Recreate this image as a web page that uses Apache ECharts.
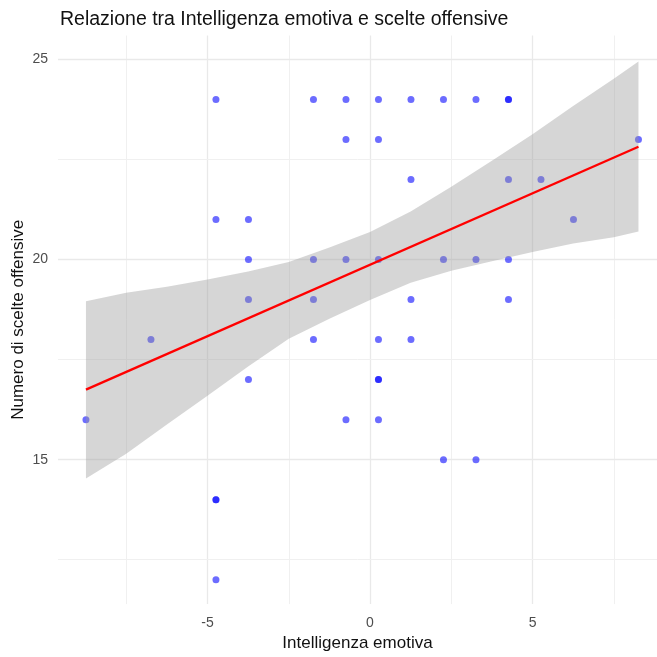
<!DOCTYPE html>
<html lang="it">
<head>
  <meta charset="UTF-8">
  <title>Relazione tra Intelligenza emotiva e scelte offensive</title>
  <style>
    * { margin: 0; padding: 0; }
    html, body { width: 100%; height: 100%; background: #ffffff; }
    #main { width: 657px; height: 657px; }
  </style>
</head>
<body>
  <div id="main"></div>
  <script src="https://cdn.jsdelivr.net/npm/echarts@6/dist/echarts.min.js"></script>
  <script>
    // punti osservati (x centrata, numero di scelte)
    var pointX = [-8.74, -6.74,
      -4.74, -4.74, -4.74, -4.74, -4.74,
      -3.74, -3.74, -3.74, -3.74,
      -1.74, -1.74, -1.74, -1.74,
      -0.74, -0.74, -0.74, -0.74,
      0.26, 0.26, 0.26, 0.26, 0.26, 0.26, 0.26,
      1.26, 1.26, 1.26, 1.26,
      2.26, 2.26, 2.26,
      3.26, 3.26, 3.26,
      4.26, 4.26, 4.26, 4.26, 4.26,
      5.26, 6.26, 8.26];
    var pointY = [16, 18,
      24, 21, 14, 14, 12,
      21, 20, 19, 17,
      24, 20, 19, 18,
      24, 23, 20, 16,
      24, 23, 20, 18, 17, 17, 16,
      24, 22, 19, 18,
      24, 20, 15,
      24, 20, 15,
      24, 24, 22, 20, 19,
      22, 21, 23];

    // retta di regressione (estremi)
    var lineX = [-8.74, 8.26];
    var lineY = [16.75, 22.82];

    // banda di confidenza
    var bandX = [-8.74, -7.5, -6.25, -5, -3.75, -2.5, -1.25, 0, 1.25, 2.5, 3.75, 5, 6.25, 7.5, 8.26];
    var bandUpper = [18.96, 19.17, 19.32, 19.5, 19.7, 19.94, 20.3, 20.69, 21.2, 21.82, 22.47, 23.13, 23.84, 24.52, 24.95];
    var bandLower = [14.53, 15.15, 15.88, 16.6, 17.33, 18.02, 18.52, 18.99, 19.42, 19.72, 19.96, 20.19, 20.4, 20.56, 20.7];

    // tacche e griglia
    var xTicks = [-5, 0, 5];
    var yTicks = [15, 20, 25];
    var xMinor = [-7.5, -2.5, 2.5, 7.5];
    var yMinor = [12.5, 17.5, 22.5];

    var font = 'Liberation Sans, Arial, sans-serif';
    var chart = echarts.init(document.getElementById('main'));

    var major = { type: 'solid', width: 1.3, color: '#e9e9e9' };
    var minor = { type: 'solid', width: 1, color: '#f0f0f0' };
    var gridLines = [];
    xTicks.forEach(function (v) { gridLines.push({ xAxis: v, lineStyle: major }); });
    xMinor.forEach(function (v) { gridLines.push({ xAxis: v, lineStyle: minor }); });
    yTicks.forEach(function (v) { gridLines.push({ yAxis: v, lineStyle: major }); });
    yMinor.forEach(function (v) { gridLines.push({ yAxis: v, lineStyle: minor }); });

    var option = {
      backgroundColor: '#ffffff',
      animation: false,
      title: {
        text: 'Relazione tra Intelligenza emotiva e scelte offensive',
        left: 55,
        top: 5,
        textStyle: { fontFamily: font, fontSize: 19.5, fontWeight: 'normal', color: '#111111' }
      },
      grid: { left: 58, right: 0, top: 35.5, bottom: 50 },
      xAxis: {
        type: 'value',
        min: -9.6,
        max: 8.83,
        name: 'Intelligenza emotiva',
        nameLocation: 'middle',
        nameGap: 27,
        nameTextStyle: { fontFamily: font, fontSize: 17, color: '#111111' },
        axisLine: { show: false },
        axisTick: { show: false },
        splitLine: { show: false },
        axisLabel: { customValues: xTicks, margin: 12, fontFamily: font, fontSize: 14, color: '#4d4d4d' }
      },
      yAxis: {
        type: 'value',
        min: 11.39,
        max: 25.6,
        name: 'Numero di scelte offensive',
        nameLocation: 'middle',
        nameGap: 31,
        nameMoveOverlap: false,
        nameTextStyle: { fontFamily: font, fontSize: 17, color: '#111111' },
        axisLine: { show: false },
        axisTick: { show: false },
        splitLine: { show: false },
        axisLabel: { customValues: yTicks, margin: 10, fontFamily: font, fontSize: 14, color: '#4d4d4d' }
      },
      series: [
        {
          type: 'scatter',
          data: [],
          z: 0,
          silent: true,
          markLine: { z: 0, silent: true, symbol: 'none', label: { show: false }, animation: false, data: gridLines }
        },
        {
          type: 'scatter',
          z: 2,
          symbolSize: 7,
          itemStyle: { color: 'rgba(0,0,255,0.72)' },
          data: pointX.map(function (x, i) { return [x, pointY[i]]; })
        },
        {
          type: 'custom',
          z: 3,
          data: bandX.map(function (x, i) { return [x, bandLower[i], bandUpper[i]]; }),
          encode: { x: 0, y: [1, 2] },
          renderItem: function (params, api) {
            if (params.dataIndex !== 0) return;
            var pts = [];
            for (var i = 0; i < bandX.length; i++) pts.push(api.coord([bandX[i], bandUpper[i]]));
            for (var j = bandX.length - 1; j >= 0; j--) pts.push(api.coord([bandX[j], bandLower[j]]));
            return { type: 'polygon', shape: { points: pts }, style: { fill: 'rgba(153,153,153,0.4)' } };
          }
        },
        {
          type: 'line',
          z: 4,
          symbol: 'none',
          lineStyle: { color: '#ff0000', width: 2.3 },
          data: lineX.map(function (x, i) { return [x, lineY[i]]; })
        }
      ]
    };

    chart.setOption(option);
  </script>
</body>
</html>
